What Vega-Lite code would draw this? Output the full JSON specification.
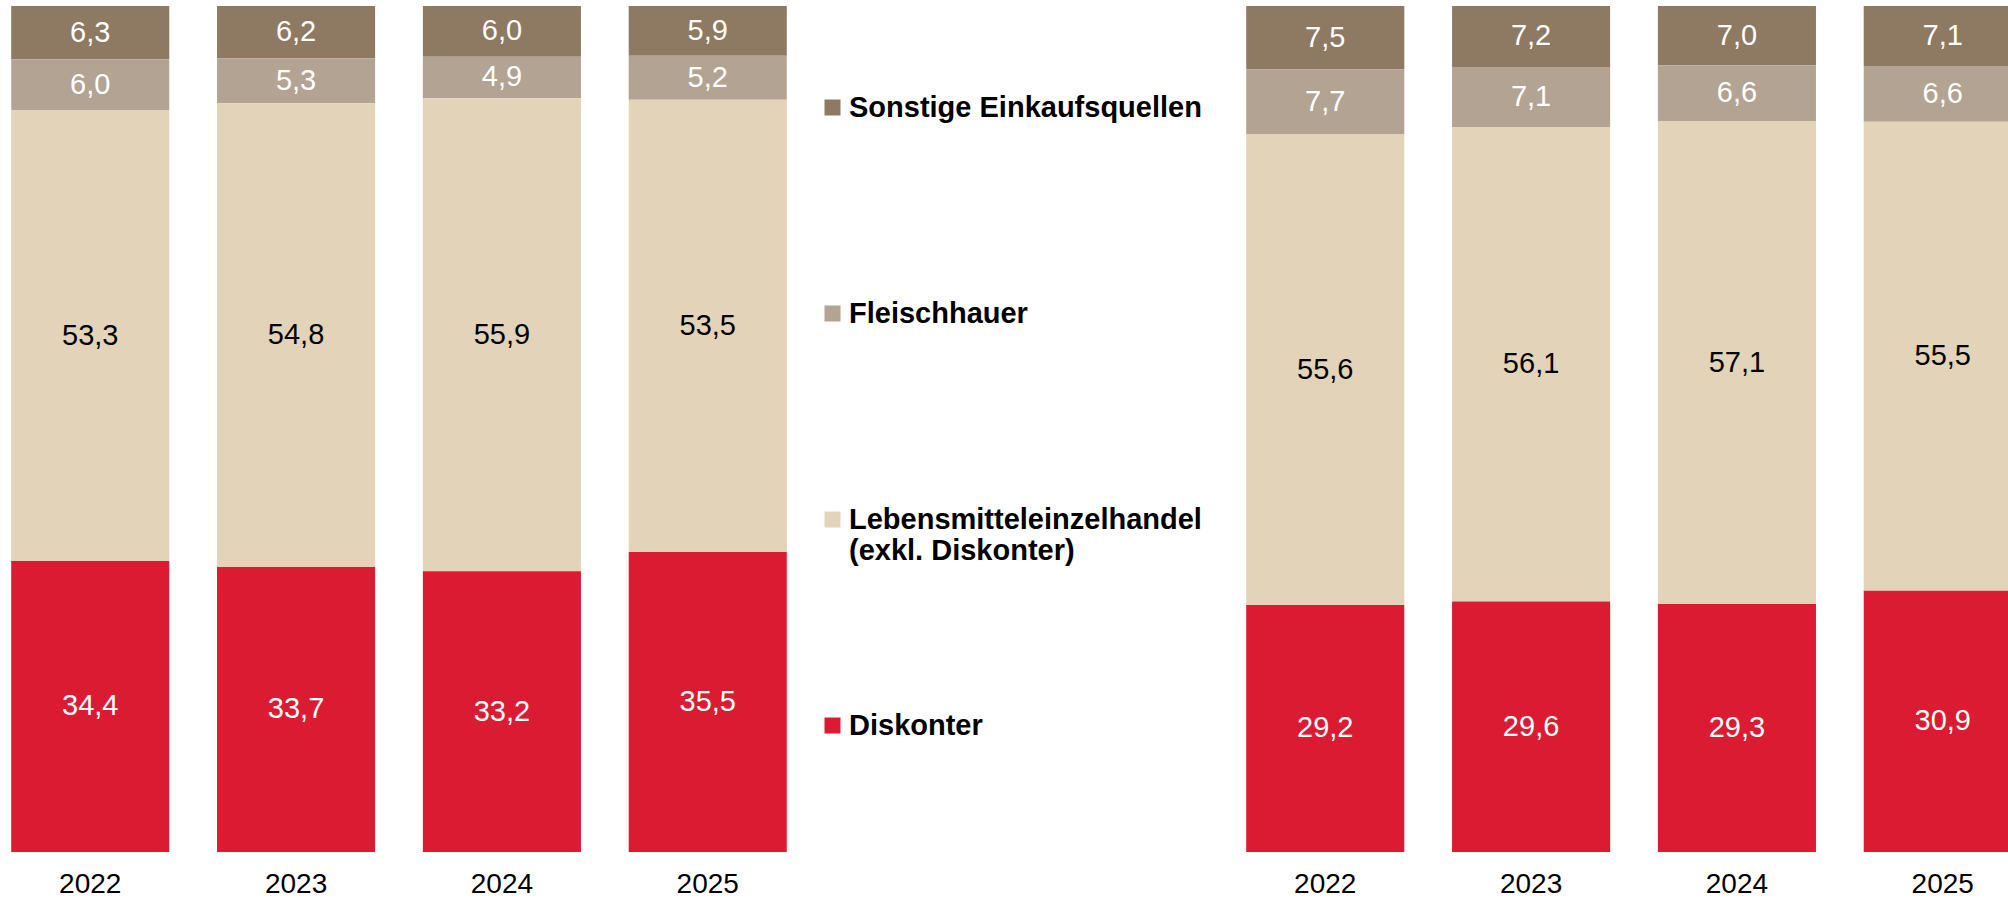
{
  "$schema": "https://vega.github.io/schema/vega-lite/v6.json",
  "width": 2008,
  "height": 846,
  "autosize": {"type": "none"},
  "padding": {"left": 0, "top": 6, "right": 0, "bottom": 46},
  "background": "white",
  "config": {
    "view": {"stroke": null},
    "locale": {"number": {"decimal": ",", "thousands": ".", "grouping": [3], "currency": ["", " €"]}}
  },
  "data": {
    "values": [
      {"slot": "A2022", "panel": "links", "year": "2022", "cat": "Sonstige Einkaufsquellen", "order": 4, "value": 6.3},
      {"slot": "A2022", "panel": "links", "year": "2022", "cat": "Fleischhauer", "order": 3, "value": 6.0},
      {"slot": "A2022", "panel": "links", "year": "2022", "cat": "Lebensmitteleinzelhandel (exkl. Diskonter)", "order": 2, "value": 53.3},
      {"slot": "A2022", "panel": "links", "year": "2022", "cat": "Diskonter", "order": 1, "value": 34.4},
      {"slot": "A2023", "panel": "links", "year": "2023", "cat": "Sonstige Einkaufsquellen", "order": 4, "value": 6.2},
      {"slot": "A2023", "panel": "links", "year": "2023", "cat": "Fleischhauer", "order": 3, "value": 5.3},
      {"slot": "A2023", "panel": "links", "year": "2023", "cat": "Lebensmitteleinzelhandel (exkl. Diskonter)", "order": 2, "value": 54.8},
      {"slot": "A2023", "panel": "links", "year": "2023", "cat": "Diskonter", "order": 1, "value": 33.7},
      {"slot": "A2024", "panel": "links", "year": "2024", "cat": "Sonstige Einkaufsquellen", "order": 4, "value": 6.0},
      {"slot": "A2024", "panel": "links", "year": "2024", "cat": "Fleischhauer", "order": 3, "value": 4.9},
      {"slot": "A2024", "panel": "links", "year": "2024", "cat": "Lebensmitteleinzelhandel (exkl. Diskonter)", "order": 2, "value": 55.9},
      {"slot": "A2024", "panel": "links", "year": "2024", "cat": "Diskonter", "order": 1, "value": 33.2},
      {"slot": "A2025", "panel": "links", "year": "2025", "cat": "Sonstige Einkaufsquellen", "order": 4, "value": 5.9},
      {"slot": "A2025", "panel": "links", "year": "2025", "cat": "Fleischhauer", "order": 3, "value": 5.2},
      {"slot": "A2025", "panel": "links", "year": "2025", "cat": "Lebensmitteleinzelhandel (exkl. Diskonter)", "order": 2, "value": 53.5},
      {"slot": "A2025", "panel": "links", "year": "2025", "cat": "Diskonter", "order": 1, "value": 35.5},
      {"slot": "B2022", "panel": "rechts", "year": "2022", "cat": "Sonstige Einkaufsquellen", "order": 4, "value": 7.5},
      {"slot": "B2022", "panel": "rechts", "year": "2022", "cat": "Fleischhauer", "order": 3, "value": 7.7},
      {"slot": "B2022", "panel": "rechts", "year": "2022", "cat": "Lebensmitteleinzelhandel (exkl. Diskonter)", "order": 2, "value": 55.6},
      {"slot": "B2022", "panel": "rechts", "year": "2022", "cat": "Diskonter", "order": 1, "value": 29.2},
      {"slot": "B2023", "panel": "rechts", "year": "2023", "cat": "Sonstige Einkaufsquellen", "order": 4, "value": 7.2},
      {"slot": "B2023", "panel": "rechts", "year": "2023", "cat": "Fleischhauer", "order": 3, "value": 7.1},
      {"slot": "B2023", "panel": "rechts", "year": "2023", "cat": "Lebensmitteleinzelhandel (exkl. Diskonter)", "order": 2, "value": 56.1},
      {"slot": "B2023", "panel": "rechts", "year": "2023", "cat": "Diskonter", "order": 1, "value": 29.6},
      {"slot": "B2024", "panel": "rechts", "year": "2024", "cat": "Sonstige Einkaufsquellen", "order": 4, "value": 7.0},
      {"slot": "B2024", "panel": "rechts", "year": "2024", "cat": "Fleischhauer", "order": 3, "value": 6.6},
      {"slot": "B2024", "panel": "rechts", "year": "2024", "cat": "Lebensmitteleinzelhandel (exkl. Diskonter)", "order": 2, "value": 57.1},
      {"slot": "B2024", "panel": "rechts", "year": "2024", "cat": "Diskonter", "order": 1, "value": 29.3},
      {"slot": "B2025", "panel": "rechts", "year": "2025", "cat": "Sonstige Einkaufsquellen", "order": 4, "value": 7.1},
      {"slot": "B2025", "panel": "rechts", "year": "2025", "cat": "Fleischhauer", "order": 3, "value": 6.6},
      {"slot": "B2025", "panel": "rechts", "year": "2025", "cat": "Lebensmitteleinzelhandel (exkl. Diskonter)", "order": 2, "value": 55.5},
      {"slot": "B2025", "panel": "rechts", "year": "2025", "cat": "Diskonter", "order": 1, "value": 30.9}
    ]
  },
  "transform": [
    {"stack": "value", "groupby": ["slot"], "sort": [{"field": "order", "order": "ascending"}], "offset": "normalize", "as": ["v0", "v1"]},
    {"calculate": "(datum.v0 + datum.v1) / 2", "as": "vmid"}
  ],
  "encoding": {
    "x": {
      "field": "slot",
      "type": "nominal",
      "sort": null,
      "title": null,
      "scale": {
        "domain": ["A2022", "A2023", "A2024", "A2025", "gap1", "gap2", "B2022", "B2023", "B2024", "B2025"],
        "range": [0, 2033],
        "paddingInner": 0.232,
        "paddingOuter": 0.0544
      },
      "axis": {
        "domain": false,
        "ticks": false,
        "grid": false,
        "labelAngle": 0,
        "labelPadding": 18,
        "labelFont": "Liberation Sans",
        "labelFontSize": 28,
        "labelColor": "#000000",
        "labelExpr": "(datum.value == 'gap1' || datum.value == 'gap2') ? '' : substring(datum.value, 1, 5)"
      }
    }
  },
  "layer": [
    {
      "mark": {"type": "bar", "clip": true},
      "encoding": {
        "y": {"field": "v0", "type": "quantitative", "scale": {"domain": [0, 1], "nice": false, "zero": true}, "axis": null},
        "y2": {"field": "v1"},
        "color": {
          "field": "cat",
          "type": "nominal",
          "scale": {
            "domain": ["Sonstige Einkaufsquellen", "Fleischhauer", "Lebensmitteleinzelhandel (exkl. Diskonter)", "Diskonter"],
            "range": ["#8E7963", "#B3A393", "#E2D3B9", "#DA1B31"]
          },
          "legend": {
            "orient": "none",
            "legendX": 818,
            "legendY": 87,
            "title": null,
            "direction": "vertical",
            "symbolType": "square",
            "symbolSize": 256,
            "symbolStrokeWidth": 0,
            "symbolOpacity": 1,
            "labelFont": "Liberation Sans",
            "labelFontSize": 29,
            "labelFontWeight": "bold",
            "labelColor": "#000000",
            "labelOffset": 2,
            "labelLimit": 0,
            "rowPadding": 145,
            "gridAlign": "all",
            "padding": 0,
            "labelExpr": "datum.label == 'Lebensmitteleinzelhandel (exkl. Diskonter)' ? ['Lebensmitteleinzelhandel', '(exkl. Diskonter)'] : datum.label"
          }
        }
      }
    },
    {
      "mark": {"type": "text", "font": "Liberation Sans", "fontSize": 29, "baseline": "middle", "align": "center", "clip": true},
      "encoding": {
        "y": {"field": "vmid", "type": "quantitative", "scale": {"domain": [0, 1], "nice": false, "zero": true}, "axis": null},
        "text": {"field": "value", "type": "quantitative", "format": ".1f"},
        "color": {
          "condition": {"test": "datum.cat == 'Lebensmitteleinzelhandel (exkl. Diskonter)'", "value": "#000000"},
          "value": "#FFFFFF"
        }
      }
    }
  ]
}
